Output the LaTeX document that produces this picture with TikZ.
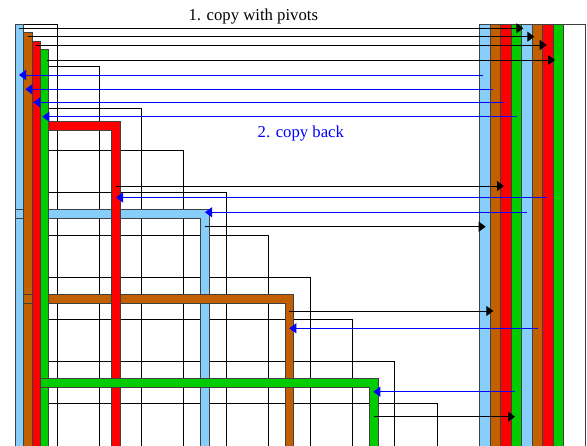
\documentclass[tikz,border=0pt]{standalone}
\usepackage{fontspec}
\setmainfont{Liberation Serif}
\usetikzlibrary{arrows.meta}
\definecolor{cblue}{RGB}{135,206,250}
\definecolor{cbrown}{RGB}{192,96,0}
\definecolor{cred}{RGB}{255,0,0}
\definecolor{cgreen}{RGB}{0,204,0}
\begin{document}
\begin{tikzpicture}[x=1pt,y=-1pt,
  bar/.style={draw=black!75,line width=0.6pt},
  gridline/.style={draw=black,line width=0.9pt},
  fwd/.style={draw=black,line width=0.9pt,-{Triangle[length=7pt,width=10pt]}},
  back/.style={draw=blue,line width=0.9pt,-{Triangle[length=7pt,width=10pt]}},
  lbl/.style={font=\fontsize{16.7}{20}\selectfont,inner sep=0pt,anchor=base}]
\useasboundingbox (0,0) rectangle (587,446);
\clip (0,0) rectangle (587,446);
% staircase grid
\foreach \k in {0,...,9} {
  \pgfmathsetmacro\yy{24+42.2*\k}
  \pgfmathsetmacro\xx{15+42.2*(\k+1)}
  \draw[gridline] (15,\yy) -- (\xx,\yy) -- (\xx,450);
}
% blue
\path[bar,fill=cblue] (15,24) rectangle (23.44,450);
\path[bar,fill=cblue] (15,209.7) -- (209.1,209.7) -- (209.1,450) -- (200.7,450) -- (200.7,218.1) -- (15,218.1) -- cycle;
% brown
\path[bar,fill=cbrown] (23.44,32.44) rectangle (31.88,450);
\path[bar,fill=cbrown] (23.44,294.8) -- (293.4,294.8) -- (293.4,450) -- (285,450) -- (285,303.2) -- (23.44,303.2) -- cycle;
% red
\path[bar,fill=cred] (31.88,40.88) rectangle (40.32,450);
\path[bar,fill=cred] (48.76,121.5) -- (120.1,121.5) -- (120.1,450) -- (111.7,450) -- (111.7,129.9) -- (48.76,129.9) -- cycle;
% green
\path[bar,fill=cgreen] (40.32,49.32) rectangle (48.76,450);
\path[bar,fill=cgreen] (40.32,378.5) -- (378.2,378.5) -- (378.2,450) -- (369.7,450) -- (369.7,386.9) -- (40.32,386.9) -- cycle;
% right panel
\path[bar,fill=white] (479.3,24) rectangle (585,450);
\foreach \i/\c in {0/cblue,1/cbrown,2/cred,3/cgreen,4/cblue,5/cbrown,6/cred,7/cgreen} {
  \path[bar,fill=\c] ({479.3+10.55*\i},24) rectangle ({479.3+10.55*(\i+1)},450);
}
% copy with pivots (black)
\foreach \n/\xa/\xb/\y in {1/19/523.3/28.3, 2/27.7/534.3/36.7, 3/36/546.7/45, 4/46.7/555/60,
   5/116/504/186, 6/205/485.7/226.7, 7/289.3/493.3/311, 8/374.3/515/416.7} {
  \coordinate (f\n s) at (\xa,\y);
  \coordinate (f\n e) at (\xb,\y);
  \draw[fwd] (f\n s) -- (f\n e);
}
% copy back (blue)
\foreach \n/\xa/\xb/\y in {1/483.3/19/75, 2/493.3/25.3/89.3, 3/504.3/33.3/102.3, 4/516.7/42.3/116.7,
   5/546.7/116/197.5, 6/527.3/205/212.3, 7/538.3/289.3/328.3, 8/515/373.3/391.7} {
  \coordinate (b\n s) at (\xa,\y);
  \coordinate (b\n e) at (\xb,\y);
  \draw[back] (b\n s) -- (b\n e);
}
\node[lbl] (t1) at (253.3,20.2) {1. copy with pivots};
\node[lbl,text=blue] (t2) at (300.8,137.7) {2. copy back};
\end{tikzpicture}
\end{document}
